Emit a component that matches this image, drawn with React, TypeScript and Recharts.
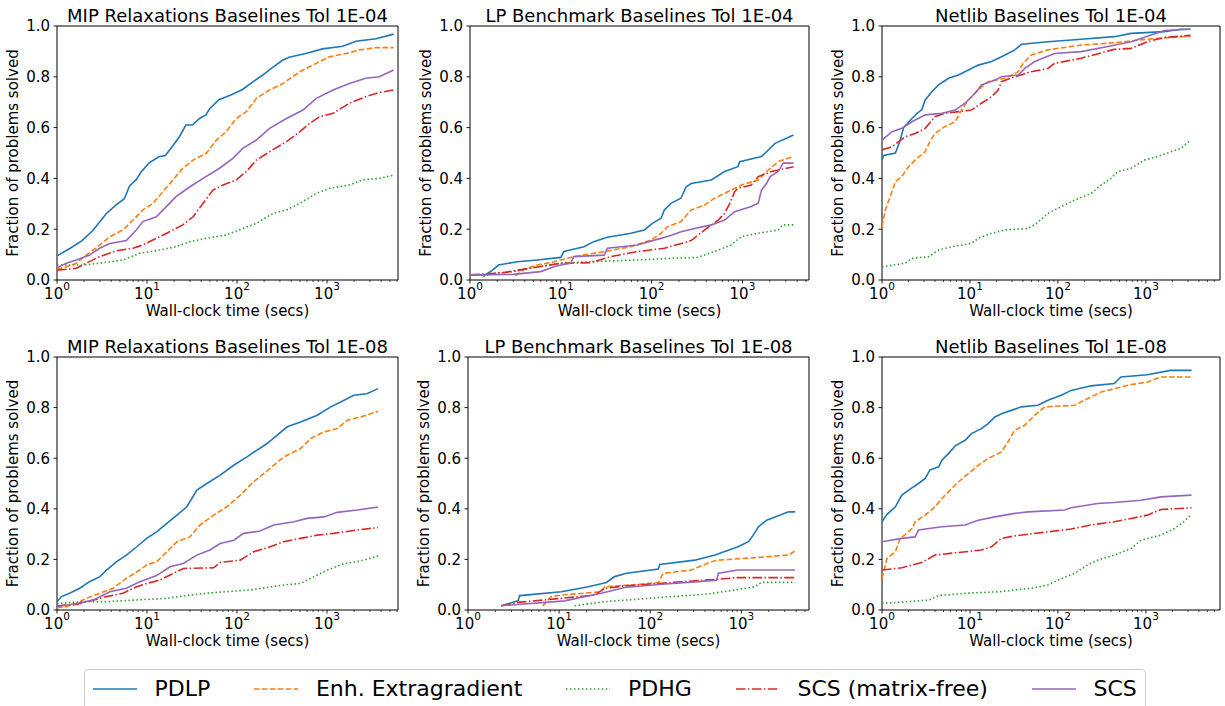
import React from 'react';
import { LineChart, Line, XAxis, YAxis, ReferenceArea } from 'recharts';

type Pt = [number, number];

const FONT = '"DejaVu Sans", Verdana, sans-serif';

const SERIES_NAMES = ['PDLP', 'Enh. Extragradient', 'PDHG', 'SCS (matrix-free)', 'SCS'];
const SERIES_COLORS = ['#1f77b4', '#ff7f0e', '#2ca02c', '#d62728', '#9467bd'];
const SERIES_DASH: (string | undefined)[] = [undefined, '5.55 2.4', '1.5 2.475', '9.6 2.4 1.5 2.4', undefined];

const Y_TICKS = [0, 0.2, 0.4, 0.6, 0.8, 1.0];
const X_MAJOR = [1, 10, 100, 1000];

// ---- MIP Relaxations, tol 1e-4 ----
const mip4Pdlp: Pt[] = [[1,0.095],[1.4,0.125],[1.9,0.155],[2.5,0.195],[3.5,0.26],[4.5,0.295],[5.6,0.32],[6.4,0.37],[7.6,0.395],[8.6,0.425],[10.5,0.46],[13.5,0.485],[16,0.49],[19,0.525],[23,0.565],[27,0.61],[32,0.61],[38,0.635],[45,0.65],[50,0.675],[63,0.71],[88,0.73],[115,0.75],[150,0.78],[190,0.805],[245,0.835],[320,0.865],[380,0.877],[580,0.892],[890,0.91],[1500,0.92],[2100,0.94],[3500,0.95],[5500,0.968]];
const mip4Enh: Pt[] = [[1,0.042],[1.27,0.052],[1.64,0.066],[2.1,0.098],[2.7,0.125],[3.85,0.17],[5.4,0.197],[7,0.236],[9,0.276],[11.7,0.302],[15,0.348],[19.5,0.394],[25,0.44],[32.5,0.472],[45.5,0.499],[59,0.551],[76,0.584],[98,0.636],[127,0.663],[164,0.715],[230,0.748],[325,0.774],[500,0.82],[760,0.853],[1070,0.879],[1640,0.892],[2300,0.906],[3540,0.915],[5500,0.915]];
const mip4Pdhg: Pt[] = [[1,0.059],[1.94,0.059],[2.97,0.066],[5.4,0.079],[8.3,0.105],[13.8,0.118],[21,0.131],[30,0.151],[45.5,0.164],[76,0.177],[116,0.203],[164,0.223],[250,0.262],[355,0.276],[500,0.302],[760,0.341],[1070,0.361],[1770,0.374],[2500,0.394],[3800,0.4],[5500,0.413]];
const mip4ScsMf: Pt[] = [[1,0.039],[1.64,0.046],[2.1,0.066],[2.97,0.092],[4.6,0.115],[7,0.125],[9,0.138],[12.7,0.164],[17.8,0.19],[25,0.217],[32.5,0.249],[42,0.302],[54,0.354],[70,0.374],[98,0.394],[127,0.427],[164,0.472],[230,0.505],[355,0.545],[500,0.584],[645,0.617],[830,0.643],[1170,0.656],[1770,0.696],[2700,0.722],[3800,0.738],[5500,0.748]];
const mip4Scs: Pt[] = [[1,0.048],[1.27,0.066],[1.64,0.079],[2.3,0.098],[2.97,0.125],[3.85,0.144],[5.9,0.155],[7.6,0.197],[9,0.23],[12.7,0.249],[16.4,0.289],[21,0.328],[30,0.367],[42,0.4],[64,0.44],[90,0.479],[116,0.518],[164,0.551],[230,0.597],[355,0.636],[540,0.669],[760,0.715],[1170,0.748],[1770,0.774],[2700,0.794],[3800,0.8],[5500,0.827]];

// ---- LP Benchmark, tol 1e-4 ----
const lp4Pdlp: Pt[] = [[1,0.02],[1.47,0.02],[1.74,0.037],[2.06,0.059],[3.3,0.072],[5.5,0.079],[10,0.089],[10.8,0.112],[18,0.131],[23,0.151],[32.6,0.168],[59,0.184],[83,0.197],[102,0.223],[127,0.243],[138,0.276],[163,0.302],[210,0.322],[240,0.367],[272,0.38],[454,0.394],[635,0.427],[890,0.446],[930,0.466],[1620,0.486],[1840,0.505],[2280,0.538],[3650,0.571]];
const lp4Enh: Pt[] = [[3.15,0.016],[3.9,0.042],[5.5,0.059],[8.4,0.072],[13.9,0.092],[30,0.112],[59,0.131],[98,0.157],[127,0.184],[150,0.21],[211,0.23],[272,0.276],[383,0.295],[492,0.322],[635,0.341],[975,0.374],[1490,0.394],[1910,0.433],[2480,0.466],[3650,0.486]];
const lp4Pdhg: Pt[] = [[1.4,0.013],[1.8,0.026],[3,0.033],[5.5,0.052],[10,0.066],[21,0.072],[70,0.079],[163,0.085],[320,0.089],[490,0.112],[750,0.138],[975,0.171],[1490,0.184],[2480,0.197],[2800,0.217],[3650,0.217]];
const lp4ScsMf: Pt[] = [[1,0.02],[2.34,0.029],[4.6,0.046],[10,0.066],[21,0.068],[35.5,0.092],[70,0.112],[138,0.125],[272,0.155],[383,0.197],[540,0.236],[635,0.262],[725,0.302],[820,0.348],[890,0.361],[1250,0.374],[1490,0.407],[2090,0.427],[3650,0.446]];
const lp4Scs: Pt[] = [[1,0.02],[3,0.022],[6,0.033],[8.4,0.052],[10,0.059],[12.8,0.066],[13.9,0.092],[30,0.098],[32.6,0.125],[70,0.138],[107,0.157],[150,0.171],[211,0.19],[297,0.203],[454,0.217],[635,0.236],[820,0.269],[1250,0.289],[1490,0.302],[1620,0.354],[1840,0.38],[2020,0.407],[2480,0.427],[2800,0.46],[3650,0.46]];

// ---- Netlib, tol 1e-4 ----
const net4Pdlp: Pt[] = [[1,0.472],[1.04,0.49],[1.42,0.5],[1.61,0.55],[1.76,0.6],[2.19,0.636],[2.5,0.656],[2.83,0.67],[3.1,0.709],[3.68,0.741],[4.4,0.768],[5.7,0.794],[7.4,0.807],[9.6,0.827],[12.4,0.846],[17.6,0.86],[22.8,0.879],[27,0.892],[32.3,0.906],[38.5,0.928],[77,0.938],[184,0.948],[437,0.958],[680,0.971],[1620,0.978],[2500,0.987],[3200,0.987]];
const net4Enh: Pt[] = [[1,0.21],[1.09,0.276],[1.24,0.328],[1.42,0.387],[1.68,0.407],[2,0.446],[2.38,0.472],[3.1,0.505],[3.5,0.545],[4,0.577],[5.2,0.604],[6.8,0.623],[8,0.669],[9.6,0.709],[12.4,0.748],[16.1,0.781],[24.9,0.794],[35.4,0.82],[40.2,0.853],[49.9,0.886],[77,0.906],[184,0.925],[437,0.934],[1040,0.948],[3200,0.96]];
const net4Pdhg: Pt[] = [[1,0.052],[1.84,0.066],[2.19,0.085],[3.4,0.092],[4.4,0.118],[6.2,0.131],[10.4,0.144],[12.4,0.164],[17.6,0.184],[25,0.197],[45.5,0.203],[54.5,0.217],[77,0.262],[109,0.289],[155,0.315],[238,0.341],[310,0.374],[400,0.4],[480,0.427],[680,0.44],[960,0.472],[1360,0.486],[1930,0.505],[2500,0.518],[3200,0.551]];
const net4ScsMf: Pt[] = [[1,0.512],[1.3,0.525],[1.84,0.564],[2.38,0.577],[3.1,0.597],[4,0.643],[5.2,0.656],[7.4,0.663],[10.4,0.669],[13.5,0.696],[17.6,0.722],[20.9,0.748],[22.8,0.781],[32.3,0.8],[49.9,0.82],[77,0.833],[91.6,0.853],[184,0.873],[437,0.908],[680,0.912],[1040,0.938],[1620,0.955],[3200,0.963]];
const net4Scs: Pt[] = [[1,0.551],[1.3,0.584],[1.68,0.597],[2.19,0.623],[3.1,0.65],[4.8,0.656],[6.8,0.669],[8.8,0.696],[11.4,0.735],[13.5,0.768],[19.2,0.787],[22.8,0.8],[35.4,0.807],[42,0.833],[54.5,0.86],[91.6,0.892],[184,0.899],[370,0.919],[680,0.938],[1040,0.96],[1620,0.982],[3200,0.987]];

// ---- MIP Relaxations, tol 1e-8 ----
const mip8Pdlp: Pt[] = [[1,0.033],[1.12,0.053],[1.38,0.066],[1.79,0.086],[2.3,0.112],[3,0.132],[3.55,0.158],[4.6,0.191],[5.9,0.217],[7.7,0.25],[9.9,0.283],[12.8,0.309],[16.6,0.342],[21.5,0.375],[27.7,0.408],[35.8,0.474],[46.3,0.5],[65,0.533],[92,0.572],[129,0.605],[167,0.632],[216,0.658],[280,0.691],[362,0.724],[508,0.743],[780,0.77],[1100,0.803],[1420,0.822],[1980,0.849],[2770,0.855],[3700,0.875]];
const mip8Enh: Pt[] = [[1,0.009],[1.27,0.013],[1.64,0.026],[2.1,0.046],[3,0.066],[4.2,0.086],[5.9,0.125],[8.3,0.158],[9.9,0.178],[12.8,0.191],[16.6,0.23],[21.5,0.27],[30,0.289],[38.8,0.336],[55,0.375],[77,0.408],[109,0.454],[153,0.507],[198,0.539],[256,0.572],[331,0.605],[508,0.638],[660,0.678],[925,0.704],[1300,0.717],[1680,0.75],[2360,0.763],[3700,0.786]];
const mip8Pdhg: Pt[] = [[1,0.026],[1.95,0.033],[3.55,0.033],[7,0.039],[16.6,0.046],[30,0.059],[60,0.07],[140,0.079],[331,0.099],[508,0.105],[720,0.132],[1010,0.158],[1560,0.184],[2160,0.191],[3700,0.213]];
const mip8ScsMf: Pt[] = [[1,0.017],[1.64,0.022],[2.52,0.039],[3.55,0.053],[5.4,0.066],[7.7,0.092],[9.9,0.105],[13.9,0.118],[19.6,0.145],[25.3,0.164],[55,0.167],[65,0.188],[109,0.197],[153,0.23],[216,0.246],[331,0.27],[508,0.283],[780,0.296],[1190,0.303],[2160,0.316],[3700,0.326]];
const mip8Scs: Pt[] = [[1,0.013],[1.64,0.026],[2.52,0.039],[3.86,0.072],[5.9,0.086],[8.3,0.112],[12.8,0.136],[18,0.171],[25.3,0.184],[35.8,0.217],[50,0.237],[65,0.263],[92,0.276],[118,0.303],[180,0.312],[256,0.336],[430,0.349],[600,0.362],[925,0.368],[1300,0.386],[2160,0.395],[3700,0.407]];

// ---- LP Benchmark, tol 1e-8 ----
const lp8Pdlp: Pt[] = [[2.32,0.017],[3.54,0.036],[3.7,0.057],[10.6,0.072],[20.9,0.092],[33,0.109],[40.7,0.132],[55,0.145],[123,0.162],[127,0.18],[309,0.197],[513,0.217],[920,0.25],[1200,0.27],[1350,0.296],[1540,0.329],[1900,0.355],[3300,0.388],[3900,0.388]];
const lp8Enh: Pt[] = [[6.6,0.016],[8.2,0.053],[10.6,0.059],[29,0.072],[31.7,0.092],[74,0.101],[123,0.109],[139,0.145],[283,0.158],[470,0.191],[560,0.197],[1410,0.207],[3300,0.217],[3900,0.234]];
const lp8Pdhg: Pt[] = [[14.8,0.017],[31.7,0.033],[74,0.043],[171,0.053],[400,0.062],[850,0.079],[1410,0.092],[1660,0.109],[3900,0.109]];
const lp8ScsMf: Pt[] = [[2.32,0.017],[3.54,0.03],[10.6,0.046],[24.7,0.059],[31.7,0.086],[52.6,0.095],[123,0.105],[400,0.118],[920,0.128],[3900,0.128]];
const lp8Scs: Pt[] = [[2.32,0.017],[11.5,0.036],[29,0.066],[52.6,0.089],[123,0.101],[335,0.112],[535,0.118],[560,0.145],[920,0.158],[3900,0.158]];

// ---- Netlib, tol 1e-8 ----
const net8Pdlp: Pt[] = [[1,0.349],[1.14,0.378],[1.42,0.408],[1.68,0.454],[2.19,0.483],[2.6,0.5],[3.1,0.52],[3.5,0.553],[4.4,0.566],[4.8,0.592],[5.7,0.618],[6.8,0.649],[8.8,0.671],[10.4,0.697],[13.5,0.717],[16.1,0.737],[19.2,0.763],[22.8,0.776],[29.5,0.789],[38.5,0.803],[59.3,0.809],[77,0.829],[109,0.849],[141,0.868],[238,0.886],[437,0.895],[520,0.921],[1040,0.93],[1900,0.947],[3300,0.947]];
const net8Enh: Pt[] = [[1,0.125],[1.14,0.204],[1.42,0.23],[1.61,0.283],[1.84,0.299],[2.19,0.322],[2.38,0.349],[3.1,0.375],[4,0.408],[4.8,0.441],[6.2,0.48],[7.4,0.507],[9.6,0.539],[12.4,0.572],[16.1,0.599],[22.8,0.625],[27,0.664],[32.3,0.711],[42,0.73],[54.5,0.77],[70.7,0.803],[155,0.809],[218,0.836],[310,0.862],[680,0.891],[1040,0.901],[1480,0.921],[3300,0.921]];
const net8Pdhg: Pt[] = [[1,0.026],[3.4,0.039],[4.4,0.057],[8.8,0.066],[20.9,0.072],[49.9,0.086],[77,0.099],[100,0.118],[155,0.145],[218,0.178],[282,0.197],[437,0.217],[680,0.243],[880,0.276],[1480,0.296],[2100,0.322],[2700,0.349],[3300,0.378]];
const net8ScsMf: Pt[] = [[1,0.158],[1.68,0.167],[2.83,0.188],[4,0.217],[6.8,0.226],[13.5,0.237],[17.6,0.25],[22.8,0.283],[32.3,0.293],[77,0.309],[141,0.32],[238,0.336],[437,0.349],[680,0.362],[1040,0.375],[1480,0.397],[3300,0.404]];
const net8Scs: Pt[] = [[1,0.27],[1.68,0.283],[2.38,0.289],[2.6,0.316],[4.8,0.329],[8.8,0.336],[12.4,0.355],[19.2,0.368],[32.3,0.382],[45.5,0.388],[119,0.395],[141,0.404],[282,0.421],[437,0.425],[880,0.434],[1480,0.447],[3300,0.454]];

interface Panel {
  title: string;
  xMax: number;
  left: number; // plot area left (px)
  top: number;  // plot area top (px)
  w: number;
  h: number;
  series: Pt[][];
}

const PANELS: Panel[] = [
  { title: 'MIP Relaxations Baselines Tol 1E-04', xMax: 6150, left: 57, top: 26, w: 341, h: 254, series: [mip4Pdlp, mip4Enh, mip4Pdhg, mip4ScsMf, mip4Scs] },
  { title: 'LP Benchmark Baselines Tol 1E-04', xMax: 5400, left: 470, top: 26, w: 339, h: 254, series: [lp4Pdlp, lp4Enh, lp4Pdhg, lp4ScsMf, lp4Scs] },
  { title: 'Netlib Baselines Tol 1E-04', xMax: 6950, left: 882, top: 26, w: 338, h: 254, series: [net4Pdlp, net4Enh, net4Pdhg, net4ScsMf, net4Scs] },
  { title: 'MIP Relaxations Baselines Tol 1E-08', xMax: 6150, left: 57, top: 357, w: 341, h: 253, series: [mip8Pdlp, mip8Enh, mip8Pdhg, mip8ScsMf, mip8Scs] },
  { title: 'LP Benchmark Baselines Tol 1E-08', xMax: 5530, left: 468, top: 357, w: 341, h: 253, series: [lp8Pdlp, lp8Enh, lp8Pdhg, lp8ScsMf, lp8Scs] },
  { title: 'Netlib Baselines Tol 1E-08', xMax: 6950, left: 882, top: 357, w: 338, h: 253, series: [net8Pdlp, net8Enh, net8Pdhg, net8ScsMf, net8Scs] },
];

const AX_W = 57;   // room left of plot for y ticks + label
const M_TOP = 26;  // room above plot for title
const AX_H = 45;   // room below plot for x ticks + label
const M_RIGHT = 6;

const xTicksFor = (xMax: number) => {
  const out: number[] = [];
  X_MAJOR.forEach(p => {
    for (let m = 1; m <= 9; m++) {
      const v = m * p;
      if (v <= xMax) out.push(v);
    }
  });
  return out;
};

const XTick = (props: any) => {
  const { x, y, payload } = props;
  const v = payload.value as number;
  const isMajor = X_MAJOR.includes(v);
  const exp = Math.round(Math.log10(v));
  return (
    <g>
      <line x1={x} x2={x} y1={y} y2={y + (isMajor ? 3.5 : 2)} stroke="#000" strokeWidth={isMajor ? 0.9 : 0.7} />
      {isMajor && (
        <text x={x} y={y + 18.5} textAnchor="middle" fontSize={15} fill="#000" fontFamily={FONT}>
          10<tspan dy={-8.5} fontSize={10.5}>{exp}</tspan>
        </text>
      )}
    </g>
  );
};

const YTick = (props: any) => {
  const { x, y, payload } = props;
  return (
    <g>
      <line x1={x} x2={x - 3.5} y1={y} y2={y} stroke="#000" strokeWidth={0.9} />
      <text x={x - 7} y={y + 5.4} textAnchor="end" fontSize={15} fill="#000" fontFamily={FONT}>
        {(payload.value as number).toFixed(1)}
      </text>
    </g>
  );
};

const PanelChart: React.FC<{ panel: Panel }> = ({ panel }) => {
  const width = AX_W + panel.w + M_RIGHT;
  const height = M_TOP + panel.h + AX_H;
  const cx = AX_W + panel.w / 2;
  return (
    <div style={{ position: 'absolute', left: panel.left - AX_W, top: panel.top - M_TOP, width, height }}>
      <LineChart width={width} height={height} margin={{ top: M_TOP, right: M_RIGHT, left: 0, bottom: 0 }}>
        <XAxis
          type="number"
          dataKey="x"
          scale="log"
          domain={[1, panel.xMax]}
          allowDataOverflow
          ticks={xTicksFor(panel.xMax)}
          interval={0}
          tick={<XTick />}
          tickLine={false}
          axisLine={false}
          tickSize={0}
          tickMargin={0}
          height={AX_H}
        />
        <YAxis
          type="number"
          domain={[0, 1]}
          ticks={Y_TICKS}
          interval={0}
          tick={<YTick />}
          tickLine={false}
          axisLine={false}
          tickSize={0}
          tickMargin={0}
          width={AX_W}
        />
        <ReferenceArea x1={1} x2={panel.xMax} y1={0} y2={1} fill="none" fillOpacity={0} stroke="#000" strokeWidth={1} ifOverflow="visible" />
        {panel.series.map((s, i) => (
          <Line
            key={SERIES_NAMES[i]}
            data={s.map(([x, y]) => ({ x, y }))}
            dataKey="y"
            type="linear"
            stroke={SERIES_COLORS[i]}
            strokeWidth={1.6}
            strokeDasharray={SERIES_DASH[i]}
            dot={false}
            activeDot={false}
            isAnimationActive={false}
          />
        ))}
      </LineChart>
      <svg width={width} height={height} style={{ position: 'absolute', left: 0, top: 0, pointerEvents: 'none' }}>
        <text x={cx} y={M_TOP - 4.5} textAnchor="middle" fontSize={18} fill="#000" fontFamily={FONT}>
          {panel.title}
        </text>
        <text x={cx} y={M_TOP + panel.h + 36} textAnchor="middle" fontSize={15} fill="#000" fontFamily={FONT}>
          Wall-clock time (secs)
        </text>
        <text
          transform={`translate(${AX_W - 39}, ${M_TOP + panel.h / 2}) rotate(-90)`}
          textAnchor="middle"
          fontSize={15}
          fill="#000"
          fontFamily={FONT}
        >
          Fraction of problems solved
        </text>
      </svg>
    </div>
  );
};

const LegendRow: React.FC = () => (
  <div
    style={{
      position: 'absolute',
      left: 84,
      top: 669,
      width: 1062,
      height: 50,
      border: '1px solid #cccccc',
      borderRadius: 4,
      boxSizing: 'border-box',
      background: 'rgba(255,255,255,0.8)',
    }}
  >
    <div style={{ display: 'flex', alignItems: 'center', height: 22, marginTop: 8, paddingLeft: 8, fontFamily: FONT, fontSize: 22, lineHeight: '22px', color: '#000' }}>
      {SERIES_NAMES.map((name, i) => (
        <div key={name} style={{ display: 'flex', alignItems: 'center', marginRight: 44 }}>
          <svg width={44} height={10}>
            <line x1={0} x2={44} y1={5} y2={5} stroke={SERIES_COLORS[i]} strokeWidth={1.6} strokeDasharray={SERIES_DASH[i]} />
          </svg>
          <span style={{ marginLeft: 17.6, whiteSpace: 'nowrap' }}>{name}</span>
        </div>
      ))}
    </div>
  </div>
);

export default function App() {
  return (
    <div style={{ position: 'absolute', left: 0, top: 0, width: 1225, height: 706, overflow: 'hidden', background: '#fff' }}>
      {PANELS.map(p => (
        <PanelChart key={p.title} panel={p} />
      ))}
      <LegendRow />
    </div>
  );
}
